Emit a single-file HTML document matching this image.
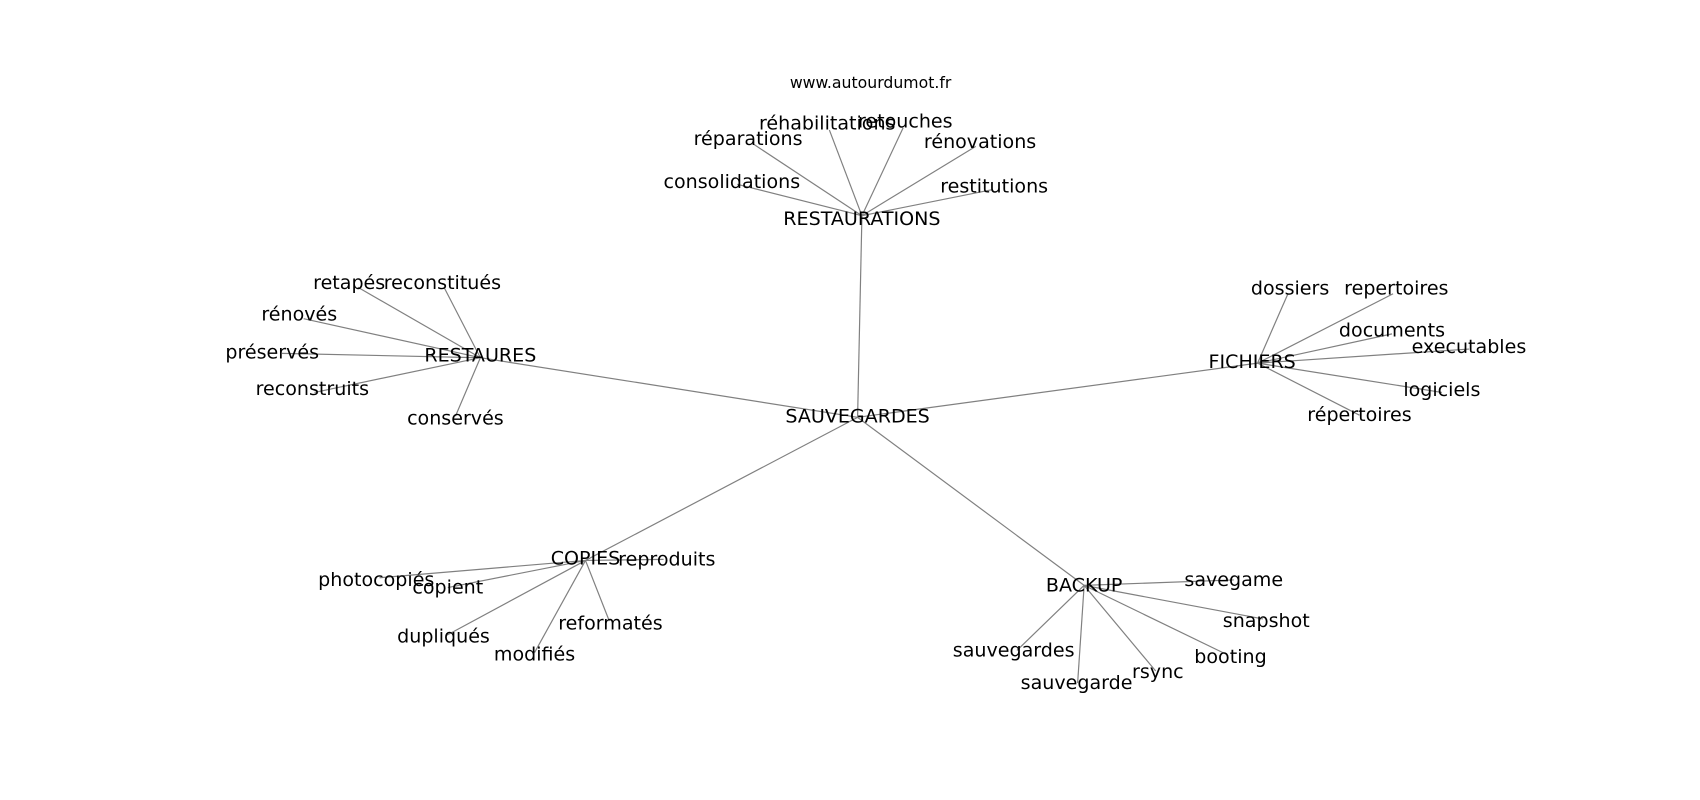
<!DOCTYPE html>
<html><head><meta charset="utf-8"><style>
html,body{margin:0;padding:0;background:#fff;}
svg{display:block;}
text{font-family:"DejaVu Sans","Liberation Sans",sans-serif;font-size:17.6px;fill:#000;text-anchor:middle;dominant-baseline:central;}
line{stroke:#808080;stroke-width:1.1;}
</style></head><body>
<svg width="1700" height="800" viewBox="0 0 1568 738" xmlns="http://www.w3.org/2000/svg">
<g>
<line x1="791" y1="385" x2="795" y2="199"/>
<line x1="791" y1="385" x2="443" y2="330"/>
<line x1="791" y1="385" x2="1160" y2="335"/>
<line x1="791" y1="385" x2="540" y2="517"/>
<line x1="791" y1="385" x2="1000" y2="540"/>
<line x1="795" y1="199" x2="680" y2="170"/>
<line x1="795" y1="199" x2="695" y2="133"/>
<line x1="795" y1="199" x2="765" y2="120"/>
<line x1="795" y1="199" x2="833" y2="118"/>
<line x1="795" y1="199" x2="900" y2="135"/>
<line x1="795" y1="199" x2="915" y2="175"/>
<line x1="443" y1="330" x2="330" y2="265"/>
<line x1="443" y1="330" x2="410" y2="266"/>
<line x1="443" y1="330" x2="280" y2="294"/>
<line x1="443" y1="330" x2="260" y2="326"/>
<line x1="443" y1="330" x2="290" y2="362"/>
<line x1="443" y1="330" x2="420" y2="384"/>
<line x1="1160" y1="335" x2="1188" y2="271"/>
<line x1="1160" y1="335" x2="1285" y2="271"/>
<line x1="1160" y1="335" x2="1284" y2="308"/>
<line x1="1160" y1="335" x2="1355" y2="322"/>
<line x1="1160" y1="335" x2="1330" y2="362"/>
<line x1="1160" y1="335" x2="1254" y2="383"/>
<line x1="540" y1="517" x2="350" y2="533"/>
<line x1="540" y1="517" x2="413" y2="542"/>
<line x1="540" y1="517" x2="412" y2="586"/>
<line x1="540" y1="517" x2="493" y2="602"/>
<line x1="540" y1="517" x2="562" y2="573"/>
<line x1="540" y1="517" x2="612" y2="516"/>
<line x1="1000" y1="540" x2="1138" y2="535"/>
<line x1="1000" y1="540" x2="1165" y2="571"/>
<line x1="1000" y1="540" x2="1132" y2="604"/>
<line x1="1000" y1="540" x2="1066" y2="619"/>
<line x1="1000" y1="540" x2="994" y2="630"/>
<line x1="1000" y1="540" x2="938" y2="600"/>
</g>
<text x="803" y="76" style="font-size:14.5px">www.autourdumot.fr</text>
<text x="791" y="384">SAUVEGARDES</text>
<text x="795" y="202">RESTAURATIONS</text>
<text x="443" y="328">RESTAURES</text>
<text x="1155" y="334">FICHIERS</text>
<text x="540" y="515">COPIES</text>
<text x="1000" y="540">BACKUP</text>

<text x="675" y="168">consolidations</text>
<text x="690" y="128">réparations</text>
<text x="763" y="114">réhabilitations</text>
<text x="835" y="112">retouches</text>
<text x="904" y="131">rénovations</text>
<text x="917" y="172">restitutions</text>

<text x="322" y="261">retapés</text>
<text x="408" y="261">reconstitués</text>
<text x="276" y="290">rénovés</text>
<text x="251" y="325">préservés</text>
<text x="288" y="359">reconstruits</text>
<text x="420" y="386">conservés</text>

<text x="1190" y="266">dossiers</text>
<text x="1288" y="266">repertoires</text>
<text x="1284" y="305">documents</text>
<text x="1355" y="320">executables</text>
<text x="1330" y="360">logiciels</text>
<text x="1254" y="383">répertoires</text>

<text x="347" y="535">photocopiés</text>
<text x="413" y="542">copient</text>
<text x="409" y="587">dupliqués</text>
<text x="493" y="604">modifiés</text>
<text x="563" y="575">reformatés</text>
<text x="615" y="516">reproduits</text>

<text x="1138" y="535">savegame</text>
<text x="1168" y="573">snapshot</text>
<text x="1135" y="606">booting</text>
<text x="1068" y="620">rsync</text>
<text x="993" y="630">sauvegarde</text>
<text x="935" y="600">sauvegardes</text>
</svg>
</body></html>
